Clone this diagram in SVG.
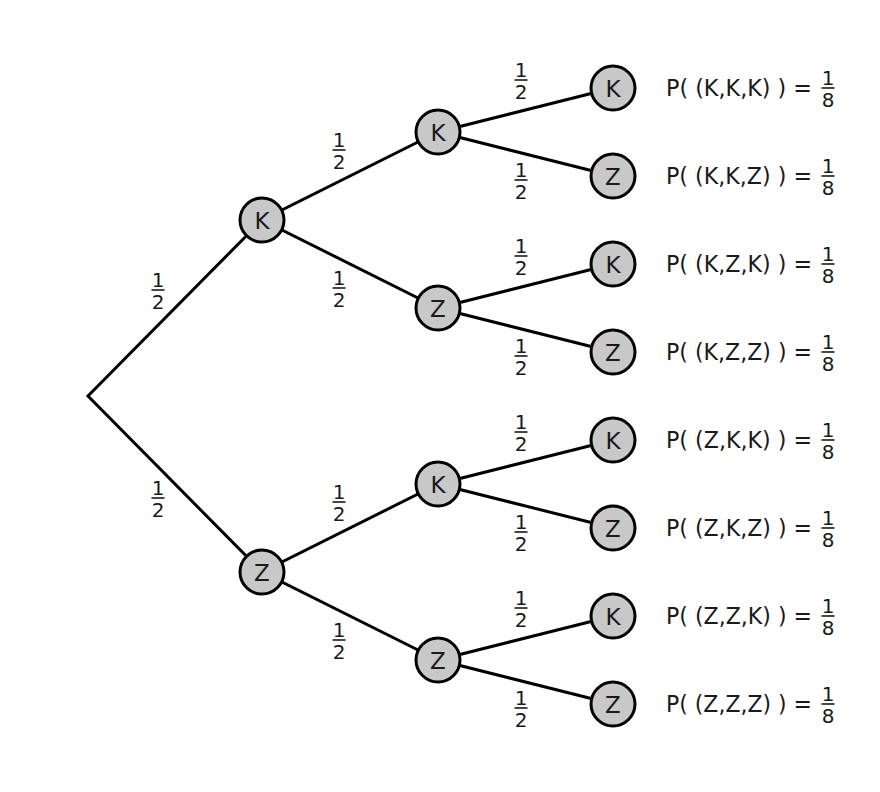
<svg xmlns="http://www.w3.org/2000/svg" width="880" height="792" viewBox="0 0 880 792">
<style>
.e{stroke:#000;stroke-width:3;fill:none;stroke-linecap:round}
.n circle{fill:#c8c8c8;stroke:#000;stroke-width:3}
.n text{font-family:"DejaVu Sans","Liberation Sans",sans-serif;font-size:23px;text-anchor:middle;fill:#1a1a1a}
.p{font-family:"DejaVu Sans","Liberation Sans",sans-serif;font-size:23px;fill:#1a1a1a}
</style>
<defs>
<g id="half" font-family="DejaVu Sans, Liberation Sans, sans-serif" font-size="20" text-anchor="middle" fill="#1a1a1a"><text x="0" y="-3">1</text><line x1="-6.5" y1="0" x2="6.5" y2="0" stroke="#1a1a1a" stroke-width="1.6"/><text x="0" y="19">2</text></g>
<g id="eighth" font-family="DejaVu Sans, Liberation Sans, sans-serif" font-size="20" text-anchor="middle" fill="#1a1a1a"><text x="0" y="-3">1</text><line x1="-6.5" y1="0" x2="6.5" y2="0" stroke="#1a1a1a" stroke-width="1.6"/><text x="0" y="19">8</text></g>
</defs>
<rect width="880" height="792" fill="#fff"/>
<g id="connectors">
<path class="e" d="M262 220L88 396L262 572"/>
<path class="e" d="M438 132L262 220L438 308"/>
<path class="e" d="M438 484L262 572L438 660"/>
<path class="e" d="M613 88L438 132L613 176"/>
<path class="e" d="M613 264L438 308L613 352"/>
<path class="e" d="M613 440L438 484L613 528"/>
<path class="e" d="M613 616L438 660L613 704"/>
</g>
<g id="edge-labels">
<use href="#half" x="158" y="290"/>
<use href="#half" x="158" y="498"/>
<use href="#half" x="339" y="150"/>
<use href="#half" x="339" y="288"/>
<use href="#half" x="339" y="502"/>
<use href="#half" x="339" y="640"/>
<use href="#half" x="521" y="80"/>
<use href="#half" x="521" y="180"/>
<use href="#half" x="521" y="256"/>
<use href="#half" x="521" y="356"/>
<use href="#half" x="521" y="432"/>
<use href="#half" x="521" y="532"/>
<use href="#half" x="521" y="608"/>
<use href="#half" x="521" y="708"/>
</g>
<g id="n1" class="n"><circle cx="262" cy="220" r="22"/><text x="262" y="228.5">K</text></g>
<g id="n2" class="n"><circle cx="262" cy="572" r="22"/><text x="262" y="580.5">Z</text></g>
<g id="n11" class="n"><circle cx="438" cy="132" r="22"/><text x="438" y="140.5">K</text></g>
<g id="n12" class="n"><circle cx="438" cy="308" r="22"/><text x="438" y="316.5">Z</text></g>
<g id="n21" class="n"><circle cx="438" cy="484" r="22"/><text x="438" y="492.5">K</text></g>
<g id="n22" class="n"><circle cx="438" cy="660" r="22"/><text x="438" y="668.5">Z</text></g>
<g id="n111" class="n"><circle cx="613" cy="88" r="22"/><text x="613" y="96.5">K</text></g>
<g id="n112" class="n"><circle cx="613" cy="176" r="22"/><text x="613" y="184.5">Z</text></g>
<g id="n121" class="n"><circle cx="613" cy="264" r="22"/><text x="613" y="272.5">K</text></g>
<g id="n122" class="n"><circle cx="613" cy="352" r="22"/><text x="613" y="360.5">Z</text></g>
<g id="n211" class="n"><circle cx="613" cy="440" r="22"/><text x="613" y="448.5">K</text></g>
<g id="n212" class="n"><circle cx="613" cy="528" r="22"/><text x="613" y="536.5">Z</text></g>
<g id="n221" class="n"><circle cx="613" cy="616" r="22"/><text x="613" y="624.5">K</text></g>
<g id="n222" class="n"><circle cx="613" cy="704" r="22"/><text x="613" y="712.5">Z</text></g>
<g id="results">
<g><text class="p" x="666" y="96" textLength="146" lengthAdjust="spacingAndGlyphs">P( (K,K,K) ) =</text><use href="#eighth" x="828" y="88"/></g>
<g><text class="p" x="666" y="184" textLength="146" lengthAdjust="spacingAndGlyphs">P( (K,K,Z) ) =</text><use href="#eighth" x="828" y="176"/></g>
<g><text class="p" x="666" y="272" textLength="146" lengthAdjust="spacingAndGlyphs">P( (K,Z,K) ) =</text><use href="#eighth" x="828" y="264"/></g>
<g><text class="p" x="666" y="360" textLength="146" lengthAdjust="spacingAndGlyphs">P( (K,Z,Z) ) =</text><use href="#eighth" x="828" y="352"/></g>
<g><text class="p" x="666" y="448" textLength="146" lengthAdjust="spacingAndGlyphs">P( (Z,K,K) ) =</text><use href="#eighth" x="828" y="440"/></g>
<g><text class="p" x="666" y="536" textLength="146" lengthAdjust="spacingAndGlyphs">P( (Z,K,Z) ) =</text><use href="#eighth" x="828" y="528"/></g>
<g><text class="p" x="666" y="624" textLength="146" lengthAdjust="spacingAndGlyphs">P( (Z,Z,K) ) =</text><use href="#eighth" x="828" y="616"/></g>
<g><text class="p" x="666" y="712" textLength="146" lengthAdjust="spacingAndGlyphs">P( (Z,Z,Z) ) =</text><use href="#eighth" x="828" y="704"/></g>
</g>
</svg>
